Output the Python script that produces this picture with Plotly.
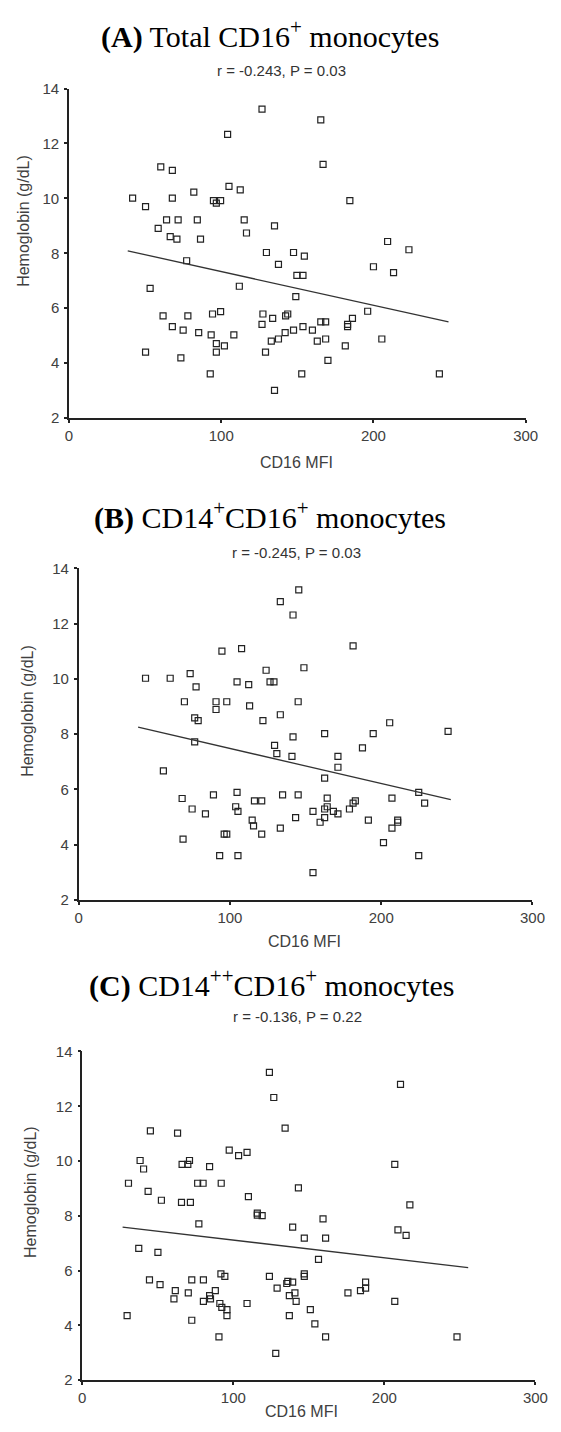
import plotly.graph_objects as go

W, H = 561, 1432

# ---------------- data ----------------
A_x = [126.8,104.2,60.3,67.9,105.1,112.5,41.8,67.9,82.0,50.3,
       94.9,96.8,99.6,64.1,71.7,84.3,115.1,58.6,66.5,70.9,
       86.4,116.6,135.0,129.7,147.5,137.6,77.3,149.7,153.7,111.9,
       53.3,149.0,61.8,78.1,94.3,99.6,127.4,133.8,142.3,143.7,
       126.8,67.9,75.0,85.2,93.4,108.3,96.8,102.1,96.8,50.3,
       73.5,92.8,135.0,129.1,132.9,137.6,142.0,147.5,153.7,152.9,
       154.6,165.4,166.9,184.5,209.3,223.3,200.0,213.2,196.2,186.2,
       183.0,183.0,165.4,168.6,159.9,163.1,168.6,181.5,170.1,205.5,
       243.3]
A_y = [13.25,12.33,11.15,11.02,10.44,10.31,10.01,10.01,10.23,9.70,
       9.92,9.83,9.92,9.22,9.22,9.22,9.22,8.91,8.61,8.52,
       8.52,8.74,9.00,8.03,8.03,7.60,7.73,7.20,7.20,6.80,
       6.72,6.42,5.72,5.72,5.79,5.88,5.79,5.63,5.72,5.79,
       5.41,5.33,5.20,5.11,5.03,5.03,4.71,4.63,4.40,4.40,
       4.19,3.61,3.01,4.40,4.80,4.88,5.11,5.20,5.33,3.61,
       7.90,12.86,11.24,9.92,8.43,8.13,7.51,7.30,5.89,5.63,
       5.41,5.33,5.50,5.50,5.20,4.80,4.88,4.63,4.10,4.88,
       3.61]
A_fit_x = [38.6, 249.3]
A_fit_y = [8.09, 5.50]

B_x = [145.5,133.3,141.7,94.7,107.7,44.2,60.5,73.7,77.6,104.7,
       112.4,123.9,126.5,129.1,148.9,69.9,90.8,97.9,90.8,113.0,
       145.1,76.7,79.0,121.8,133.3,76.7,141.7,129.5,131.0,141.0,
       56.0,68.4,75.0,83.8,89.1,104.7,103.8,105.3,116.2,121.0,
       114.7,115.6,121.0,96.2,97.9,69.0,93.2,105.3,134.8,133.3,
       143.4,145.1,181.4,205.6,162.6,194.7,244.2,187.6,171.4,171.4,
       162.6,224.8,228.7,207.1,164.3,162.6,164.3,168.4,171.4,154.9,
       162.6,159.6,179.0,181.4,182.9,191.5,210.9,210.9,207.1,201.5,
       224.8,154.9]
B_y = [13.22,12.79,12.31,11.00,11.09,10.02,10.02,10.19,9.71,9.89,
       9.79,10.31,9.89,9.89,10.40,9.17,9.17,9.17,8.89,9.02,
       9.17,8.59,8.49,8.49,8.70,7.72,7.90,7.59,7.29,7.19,
       6.67,5.67,5.29,5.11,5.80,5.89,5.37,5.20,5.58,5.58,
       4.89,4.68,4.38,4.38,4.38,4.20,3.60,3.60,5.80,4.60,
       4.98,5.80,11.19,8.41,8.02,8.02,8.10,7.50,7.19,6.80,
       6.41,5.89,5.50,5.68,5.68,5.29,5.37,5.20,5.11,5.20,
       4.98,4.81,5.29,5.50,5.58,4.89,4.89,4.81,4.60,4.07,
       3.60,2.99]
B_fit_x = [39.3, 246.0]
B_fit_y = [8.25, 5.63]

C_x = [123.9,126.8,134.3,45.1,63.1,97.3,103.5,109.1,38.3,40.6,
       66.1,69.9,71.0,84.3,30.6,76.4,80.0,92.0,43.6,52.4,
       65.7,71.6,110.0,115.9,115.9,119.1,77.2,143.1,139.3,37.4,
       50.1,44.5,51.5,61.6,60.7,70.2,72.5,80.2,80.2,84.3,
       84.9,88.1,91.8,94.4,91.1,92.4,95.8,95.8,29.7,72.5,
       90.5,109.1,123.9,129.0,128.1,135.4,136.1,139.3,137.1,140.8,
       141.6,137.1,147.0,147.0,147.0,210.7,206.9,216.9,159.4,161.1,
       209.0,214.4,156.4,151.0,154.0,161.1,175.9,184.2,187.6,187.6,
       206.9,248.1]
C_y = [13.24,12.32,11.20,11.10,11.02,10.40,10.20,10.32,10.02,9.71,
       9.88,9.88,10.02,9.80,9.19,9.19,9.19,9.19,8.89,8.57,
       8.49,8.49,8.70,8.10,8.03,8.01,7.71,9.02,7.59,6.81,
       6.67,5.66,5.49,5.27,4.97,5.19,5.66,5.66,4.88,5.09,
       4.97,5.27,5.88,5.79,4.80,4.66,4.58,4.36,4.36,4.19,
       3.58,4.80,5.79,5.36,2.98,5.53,5.61,5.58,5.09,5.19,
       4.88,4.36,7.19,5.88,5.79,12.80,9.88,8.40,7.89,7.19,
       7.49,7.29,6.41,4.58,4.06,3.58,5.19,5.27,5.58,5.36,
       4.88,3.58]
C_fit_x = [26.7, 255.5]
C_fit_y = [7.59, 6.11]

titles = ["<b>(A)</b> Total CD16<sup>+</sup> monocytes",
          "<b>(B)</b> CD14<sup>+</sup>CD16<sup>+</sup> monocytes",
          "<b>(C)</b> CD14<sup>++</sup>CD16<sup>+</sup> monocytes"]
stats = ["r = -0.243, P = 0.03", "r = -0.245, P = 0.03", "r = -0.136, P = 0.22"]
x_title = "CD16 MFI"
y_title = "Hemoglobin (g/dL)"
x_ticks = [0, 100, 200, 300]
y_ticks = [2, 4, 6, 8, 10, 12, 14]

# ---------------- layout geometry (pixels) ----------------
panels = [
    dict(x=A_x, y=A_y, fx=A_fit_x, fy=A_fit_y, left=67, right=538, top=80.5, bottom=414,
         title_xy=(274, 26), stat_xy=(286, 62), xt_xy=(302, 459), yt_xy=(20, 214)),
    dict(x=B_x, y=B_y, fx=B_fit_x, fy=B_fit_y, left=77, right=545, top=566, bottom=901.6,
         title_xy=(274, 513), stat_xy=(302, 550), xt_xy=(310, 944), yt_xy=(24, 710)),
    dict(x=C_x, y=C_y, fx=C_fit_x, fy=C_fit_y, left=80.7, right=548, top=1055, bottom=1387.7,
         title_xy=(276, 986), stat_xy=(303, 1020), xt_xy=(307, 1419), yt_xy=(28, 1197)),
]

def px(x):
    return x / W

def py(y):
    return 1 - y / H

SANS = "Liberation Sans, Arial, sans-serif"
SERIF = "Liberation Serif, Times New Roman, serif"
INK = "#222222"

fig = go.Figure()
annotations = []
layout_axes = {}
for i, p in enumerate(panels):
    n = "" if i == 0 else str(i + 1)
    xa, ya = "x" + n, "y" + n
    fig.add_trace(go.Scatter(
        x=p["x"], y=p["y"], mode="markers", xaxis=xa, yaxis=ya,
        marker=dict(symbol="square-open", size=6, color=INK, line=dict(width=1.2)),
        showlegend=False, hoverinfo="x+y"))
    fig.add_trace(go.Scatter(
        x=p["fx"], y=p["fy"], mode="lines", xaxis=xa, yaxis=ya,
        line=dict(color="#333333", width=1.3), showlegend=False, hoverinfo="skip"))
    axis_common = dict(showline=True, linewidth=1.5, linecolor=INK, showgrid=False,
                       zeroline=False, ticks="outside", ticklen=3, tickwidth=2,
                       tickcolor=INK, tickfont=dict(family=SANS, size=15, color="#404040"),
                       fixedrange=True)
    layout_axes["xaxis" + n] = dict(axis_common, domain=[px(p["left"]), px(p["right"])],
                                    range=[0, 300], tickvals=x_ticks, anchor=ya)
    layout_axes["yaxis" + n] = dict(axis_common, domain=[py(p["bottom"]), py(p["top"])],
                                    range=[2, 14], tickvals=y_ticks, anchor=xa, ticklabelstandoff=2)
    tx, ty = p["title_xy"]
    annotations.append(dict(text=titles[i], x=px(tx), y=py(ty), xref="paper", yref="paper",
                            xanchor="center", yanchor="middle", showarrow=False,
                            font=dict(family=SERIF, size=30, color="black")))
    sx, sy = p["stat_xy"]
    annotations.append(dict(text=stats[i], x=px(sx), y=py(sy), xref="paper", yref="paper",
                            xanchor="center", yanchor="middle", showarrow=False,
                            font=dict(family=SANS, size=15, color="#333333")))
    xx, xy = p["xt_xy"]
    annotations.append(dict(text=x_title, x=px(xx), y=py(xy), xref="paper", yref="paper",
                            xanchor="center", yanchor="middle", showarrow=False,
                            font=dict(family=SANS, size=16, color="#404040")))
    yx, yy = p["yt_xy"]
    annotations.append(dict(text=y_title, x=px(yx), y=py(yy), xref="paper", yref="paper",
                            xanchor="center", yanchor="middle", showarrow=False, textangle=-90,
                            font=dict(family=SANS, size=16, color="#404040")))

fig.update_layout(width=W, height=H, margin=dict(l=0, r=0, t=0, b=0),
                  paper_bgcolor="white", plot_bgcolor="white",
                  annotations=annotations, **layout_axes)
fig.write_html("out.html", config={"displayModeBar": False},
               post_script="document.body.style.margin='0';document.body.style.overflow='hidden';")
